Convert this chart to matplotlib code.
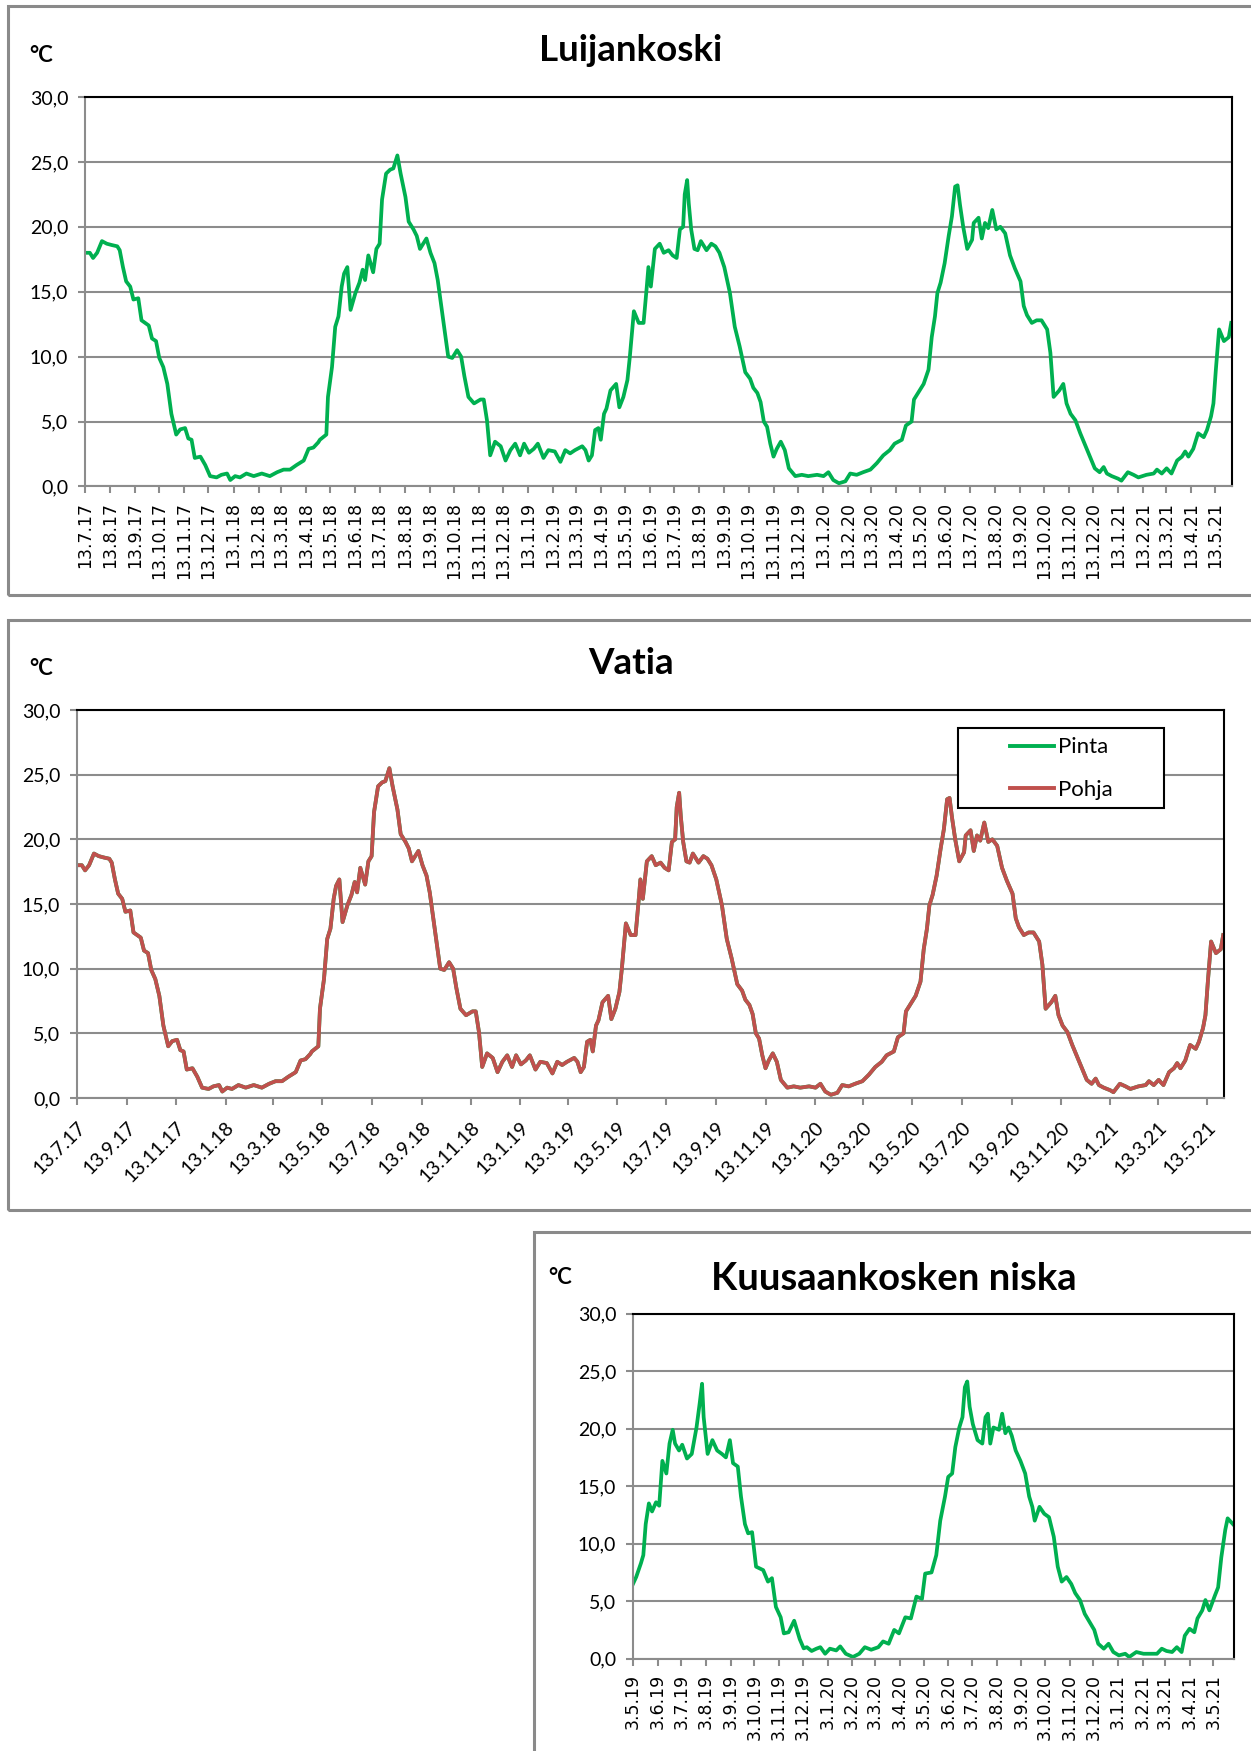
import matplotlib
matplotlib.use("Agg")
import matplotlib.pyplot as plt
from matplotlib.patches import Rectangle
from matplotlib.ticker import FuncFormatter
from matplotlib.lines import Line2D
import datetime as dt

# ---------------- data ----------------
titles = ["Luijankoski", "Vatia", "Kuusaankosken niska"]
unit_label = "°C"
legend_labels = ["Pinta", "Pohja"]

# Luijankoski: days since 13.7.2017, water temperature (°C)
luij_start = (2017, 7, 13)
luij_end = (2021, 6, 3)
luij_day = [0, 6, 10, 15, 21, 27, 33, 40, 43, 47, 51, 56, 60, 66, 70, 79, 83, 88, 92, 97,
            102, 107, 113, 118, 124, 128, 132, 136, 143, 149, 155, 163, 169, 176, 180, 186, 192, 200, 209, 219,
            229, 238, 246, 254, 262, 271, 277, 283, 289, 291, 299, 301, 306, 310, 314, 318, 321, 325, 329, 335,
            340, 344, 347, 351, 357, 361, 365, 368, 373, 378, 382, 387, 391, 397, 401, 407, 411, 415, 419, 423,
            428, 433, 437, 442, 446, 450, 455, 461, 466, 470, 475, 482, 490, 494, 498, 502, 508, 515, 521, 527,
            533, 539, 544, 550, 556, 561, 568, 574, 582, 589, 595, 601, 607, 616, 620, 624, 628, 632, 636, 639,
            643, 646, 651, 658, 662, 667, 672, 675, 680, 686, 692, 696, 698, 701, 706, 712, 717, 723, 728, 733,
            737, 741, 743, 746, 748, 751, 755, 759, 763, 770, 776, 781, 786, 792, 799, 805, 811, 818, 824, 828,
            833, 837, 841, 845, 849, 853, 857, 862, 867, 872, 880, 888, 896, 907, 915, 921, 927, 934, 942, 948,
            956, 964, 973, 981, 989, 997, 1003, 1012, 1017, 1024, 1027, 1033, 1039, 1045, 1049, 1053, 1056, 1060, 1065, 1070,
            1074, 1078, 1081, 1084, 1088, 1093, 1099, 1101, 1107, 1111, 1115, 1119, 1124, 1129, 1134, 1140, 1146, 1152, 1159, 1163,
            1167, 1173, 1179, 1185, 1192, 1196, 1200, 1207, 1212, 1216, 1221, 1227, 1233, 1239, 1245, 1251, 1257, 1262, 1266, 1272,
            1280, 1284, 1292, 1299, 1305, 1315, 1324, 1328, 1334, 1340, 1346, 1353, 1359, 1363, 1367, 1373, 1379, 1386, 1390, 1395,
            1398, 1401, 1405, 1411, 1417, 1420]
luij_temp = [18.0, 18.0, 17.6, 18.0, 18.9, 18.7, 18.6, 18.5, 18.2, 16.9, 15.8, 15.4, 14.4, 14.5, 12.8, 12.4, 11.4, 11.2, 9.9, 9.2,
             7.9, 5.6, 4.0, 4.4, 4.5, 3.7, 3.6, 2.2, 2.3, 1.65, 0.8, 0.7, 0.9, 1.0, 0.5, 0.8, 0.7, 1.0, 0.8, 1.0,
             0.8, 1.1, 1.3, 1.3, 1.65, 2.0, 2.9, 3.0, 3.4, 3.6, 4.0, 6.9, 9.2, 12.3, 13.1, 15.4, 16.4, 16.9, 13.6, 14.9,
             15.7, 16.7, 15.9, 17.8, 16.5, 18.3, 18.7, 22.1, 24.1, 24.4, 24.5, 25.5, 24.1, 22.3, 20.4, 19.8, 19.3, 18.3, 18.7, 19.1,
             18.0, 17.2, 15.9, 13.6, 11.8, 10.0, 9.9, 10.5, 10.0, 8.5, 6.9, 6.4, 6.7, 6.7, 5.1, 2.4, 3.45, 3.1, 2.0, 2.8,
             3.3, 2.4, 3.3, 2.6, 2.9, 3.3, 2.2, 2.8, 2.7, 1.9, 2.8, 2.55, 2.8, 3.1, 2.8, 2.0, 2.4, 4.35, 4.5, 3.6,
             5.6, 6.0, 7.4, 7.9, 6.1, 6.9, 8.2, 10.0, 13.5, 12.6, 12.6, 15.4, 16.9, 15.4, 18.3, 18.7, 18.0, 18.2, 17.8, 17.6,
             19.8, 20.0, 22.5, 23.6, 21.8, 19.8, 18.3, 18.2, 18.9, 18.2, 18.7, 18.5, 18.0, 16.9, 14.9, 12.3, 10.8, 8.8, 8.3, 7.6,
             7.2, 6.5, 5.0, 4.6, 3.3, 2.3, 2.9, 3.45, 2.8, 1.4, 0.8, 0.9, 0.8, 0.9, 0.8, 1.1, 0.5, 0.25, 0.4, 1.0,
             0.9, 1.1, 1.3, 1.8, 2.4, 2.8, 3.3, 3.6, 4.7, 5.0, 6.7, 7.3, 7.9, 9.0, 11.5, 13.1, 14.9, 15.7, 17.2, 19.3,
             20.8, 23.1, 23.2, 21.7, 20.0, 18.3, 19.0, 20.3, 20.7, 19.1, 20.3, 19.9, 21.3, 19.8, 20.0, 19.5, 17.8, 16.8, 15.8, 13.9,
             13.2, 12.6, 12.8, 12.8, 12.1, 10.3, 6.9, 7.4, 7.9, 6.4, 5.6, 5.1, 4.1, 3.2, 2.3, 1.4, 1.1, 1.5, 1.0, 0.8,
             0.6, 0.45, 1.1, 0.9, 0.7, 0.9, 1.0, 1.3, 1.0, 1.4, 1.0, 2.0, 2.3, 2.7, 2.3, 2.9, 4.1, 3.8, 4.35, 5.4,
             6.4, 9.0, 12.1, 11.2, 11.5, 12.6]

# Vatia: surface (Pinta) and bottom (Pohja) follow the same curve in the picture
vatia_start = (2017, 7, 13)
vatia_end = (2021, 6, 3)
vatia_day = list(luij_day)
vatia_pinta = list(luij_temp)
vatia_pohja = list(luij_temp)

# Kuusaankosken niska: days since 3.5.2019
kuus_start = (2019, 5, 3)
kuus_end = (2021, 5, 29)
kuus_day = [0, 4, 10, 13, 16, 20, 24, 29, 33, 37, 42, 46, 50, 53, 58, 62, 68, 74, 80, 84,
            87, 89, 94, 100, 106, 112, 117, 122, 126, 132, 136, 141, 145, 150, 155, 164, 170, 175, 180, 186,
            190, 196, 203, 210, 215, 219, 225, 231, 236, 242, 248, 256, 261, 268, 277, 285, 292, 300, 309, 315,
            322, 329, 335, 343, 350, 357, 364, 368, 376, 382, 387, 393, 397, 402, 406, 411, 415, 418, 421, 424,
            428, 434, 440, 444, 447, 450, 454, 461, 465, 469, 473, 477, 482, 488, 494, 499, 503, 506, 512, 518,
            524, 530, 535, 540, 546, 552, 557, 563, 569, 575, 581, 586, 593, 599, 605, 612, 620, 625, 634, 643,
            652, 660, 666, 672, 679, 685, 691, 695, 701, 707, 711, 717, 721, 726, 733, 737, 741, 746, 749, 753,
            757]
kuus_temp = [6.5, 7.1, 8.3, 9.0, 11.7, 13.5, 12.8, 13.6, 13.3, 17.2, 16.1, 18.7, 19.9, 18.7, 18.1, 18.6, 17.4, 17.8, 20.1, 22.2,
             23.9, 21.0, 17.8, 19.0, 18.1, 17.8, 17.5, 19.0, 17.0, 16.7, 14.1, 11.7, 10.9, 11.0, 8.0, 7.7, 6.7, 7.0, 4.5, 3.6,
             2.2, 2.3, 3.3, 1.7, 0.9, 1.0, 0.67, 0.87, 1.0, 0.43, 0.87, 0.72, 1.07, 0.43, 0.15, 0.43, 1.0, 0.78, 1.0, 1.5,
             1.3, 2.5, 2.2, 3.6, 3.5, 5.4, 5.2, 7.4, 7.5, 9.0, 12.0, 14.1, 15.8, 16.1, 18.4, 20.1, 21.0, 23.6, 24.1, 21.9,
             20.4, 19.0, 18.7, 21.0, 21.3, 18.7, 20.1, 19.9, 21.3, 19.6, 20.1, 19.4, 18.1, 17.2, 16.1, 14.1, 13.2, 12.0, 13.2, 12.6,
             12.3, 10.6, 8.0, 6.7, 7.1, 6.5, 5.7, 5.1, 3.9, 3.2, 2.5, 1.3, 0.87, 1.3, 0.58, 0.29, 0.43, 0.15, 0.58, 0.43,
             0.43, 0.43, 0.87, 0.67, 0.58, 1.0, 0.58, 2.0, 2.6, 2.3, 3.5, 4.2, 5.1, 4.2, 5.5, 6.2, 8.8, 11.2, 12.2, 11.9,
             11.6]

y_ticks = [0, 5, 10, 15, 20, 25, 30]

GREEN = "#00B050"
RED = "#C0504D"
GRID = "#8C8C8C"
FRAME = "#8A8A8A"
LW = 2.7

# ---------------- helpers ----------------
W, H = 1251, 1751
fig = plt.figure(figsize=(W / 100, H / 100), dpi=100)
fig.patch.set_facecolor("white")


def to_dates(start, days):
    s = dt.date(*start)
    return [s + dt.timedelta(days=d) for d in days]


def month_ticks(start, end, step):
    y, m, d = start
    out = []
    cur = dt.date(y, m, d)
    endd = dt.date(*end)
    while cur <= endd:
        out.append(cur)
        m += step
        while m > 12:
            m -= 12
            y += 1
        cur = dt.date(y, m, d)
    return out


def fmt_date(d):
    return f"{d.day}.{d.month}.{d.strftime('%y')}"


def add_axes(l, t, r, b):
    return fig.add_axes([l / W, 1 - b / H, (r - l) / W, (b - t) / H])


def frame(l, t, r, b):
    fig.patches.append(Rectangle((l / W, 1 - b / H), (r - l) / W, (b - t) / H,
                                 transform=fig.transFigure, fill=False,
                                 ec=FRAME, lw=2.2, zorder=0))


def style_axes(ax, ylab_size):
    ax.set_ylim(0, 30)
    ax.set_yticks(y_ticks)
    ax.yaxis.set_major_formatter(FuncFormatter(lambda v, p: f"{v:.1f}".replace(".", ",")))
    ax.grid(axis="y", color=GRID, lw=1.5)
    ax.grid(axis="x", visible=False)
    ax.set_axisbelow(True)
    for s in ["top", "right"]:
        ax.spines[s].set_color("black")
        ax.spines[s].set_linewidth(1.5)
    for s in ["left", "bottom"]:
        ax.spines[s].set_color(GRID)
        ax.spines[s].set_linewidth(1.5)
    ax.tick_params(axis="both", direction="out", color=GRID, length=5, width=1.5)
    ax.tick_params(axis="y", labelsize=ylab_size, pad=7)
    for t in ax.get_yticklabels():
        t.set_fontfamily("Lato")


def fig_text(x, y, s, **kw):
    fig.text(x / W, 1 - y / H, s, **kw)


# ---------------- panel 1: Luijankoski ----------------
frame(8, 6, 1260, 595)
ax1 = add_axes(85, 97, 1232, 486.5)
ax1.plot(to_dates(luij_start, luij_day), luij_temp, color=GREEN, lw=LW, solid_joinstyle="round")
style_axes(ax1, 14)
t1 = month_ticks(luij_start, luij_end, 1)
ax1.set_xlim(dt.date(*luij_start), dt.date(*luij_end))
ax1.set_xticks(t1)
ax1.set_xticklabels([fmt_date(d) for d in t1], rotation=90, fontfamily="DejaVu Sans",
                    fontsize=12.5, ha="center", va="top")
ax1.tick_params(axis="x", pad=6)
fig_text(631, 61, titles[0], ha="center", va="baseline", fontsize=26.5,
         fontweight="bold", fontfamily="Lato")
fig_text(29, 62, unit_label, ha="left", va="baseline", fontsize=16,
         fontweight="bold", fontfamily="Lato")

# ---------------- panel 2: Vatia ----------------
frame(8, 620, 1260, 1210)
ax2 = add_axes(77, 710, 1224, 1098)
xd2 = to_dates(vatia_start, vatia_day)
ax2.plot(xd2, vatia_pinta, color=GREEN, lw=LW, solid_joinstyle="round")
ax2.plot(xd2, vatia_pohja, color=RED, lw=LW, solid_joinstyle="round")
style_axes(ax2, 14)
t2 = month_ticks(vatia_start, vatia_end, 2)
ax2.set_xlim(dt.date(*vatia_start), dt.date(*vatia_end))
ax2.set_xticks(t2)
ax2.set_xticklabels([fmt_date(d) for d in t2], rotation=45, fontfamily="Lato",
                    fontsize=14, ha="right", va="top", rotation_mode="anchor")
ax2.tick_params(axis="x", pad=10)
fig_text(631, 674, titles[1], ha="center", va="baseline", fontsize=26.5,
         fontweight="bold", fontfamily="Lato")
fig_text(29, 675, unit_label, ha="left", va="baseline", fontsize=16,
         fontweight="bold", fontfamily="Lato")
# legend box
fig.patches.append(Rectangle((958 / W, 1 - 808 / H), (1164 - 958) / W, (808 - 728) / H,
                             transform=fig.transFigure, fill=True, fc="white",
                             ec="black", lw=1.5, zorder=5))
handles = [Line2D([], [], color=GREEN, lw=2.8), Line2D([], [], color=RED, lw=2.8)]
leg = fig.legend(handles, legend_labels, loc="center left",
                 bbox_to_anchor=(1010 / W, 1 - 768.5 / H), bbox_transform=fig.transFigure,
                 frameon=False, borderpad=0, borderaxespad=0, handlelength=2.0,
                 handletextpad=0.15, labelspacing=1.0,
                 prop={"family": "Lato", "size": 16})
leg.set_zorder(6)

# ---------------- panel 3: Kuusaankosken niska ----------------
frame(534, 1232, 1260, 1760)
ax3 = add_axes(633, 1313.6, 1234, 1658.7)
ax3.plot(to_dates(kuus_start, kuus_day), kuus_temp, color=GREEN, lw=LW, solid_joinstyle="round")
style_axes(ax3, 14)
t3 = month_ticks(kuus_start, kuus_end, 1)
ax3.set_xlim(dt.date(*kuus_start), dt.date(*kuus_end))
ax3.set_xticks(t3)
ax3.set_xticklabels([fmt_date(d) for d in t3], rotation=90, fontfamily="DejaVu Sans",
                    fontsize=12.5, ha="center", va="top")
ax3.tick_params(axis="x", pad=6)
fig_text(894, 1290, titles[2], ha="center", va="baseline", fontsize=27.5,
         fontweight="bold", fontfamily="Lato")
fig_text(548, 1284, unit_label, ha="left", va="baseline", fontsize=16,
         fontweight="bold", fontfamily="Lato")

fig.savefig("out.png", dpi=100, facecolor="white")
